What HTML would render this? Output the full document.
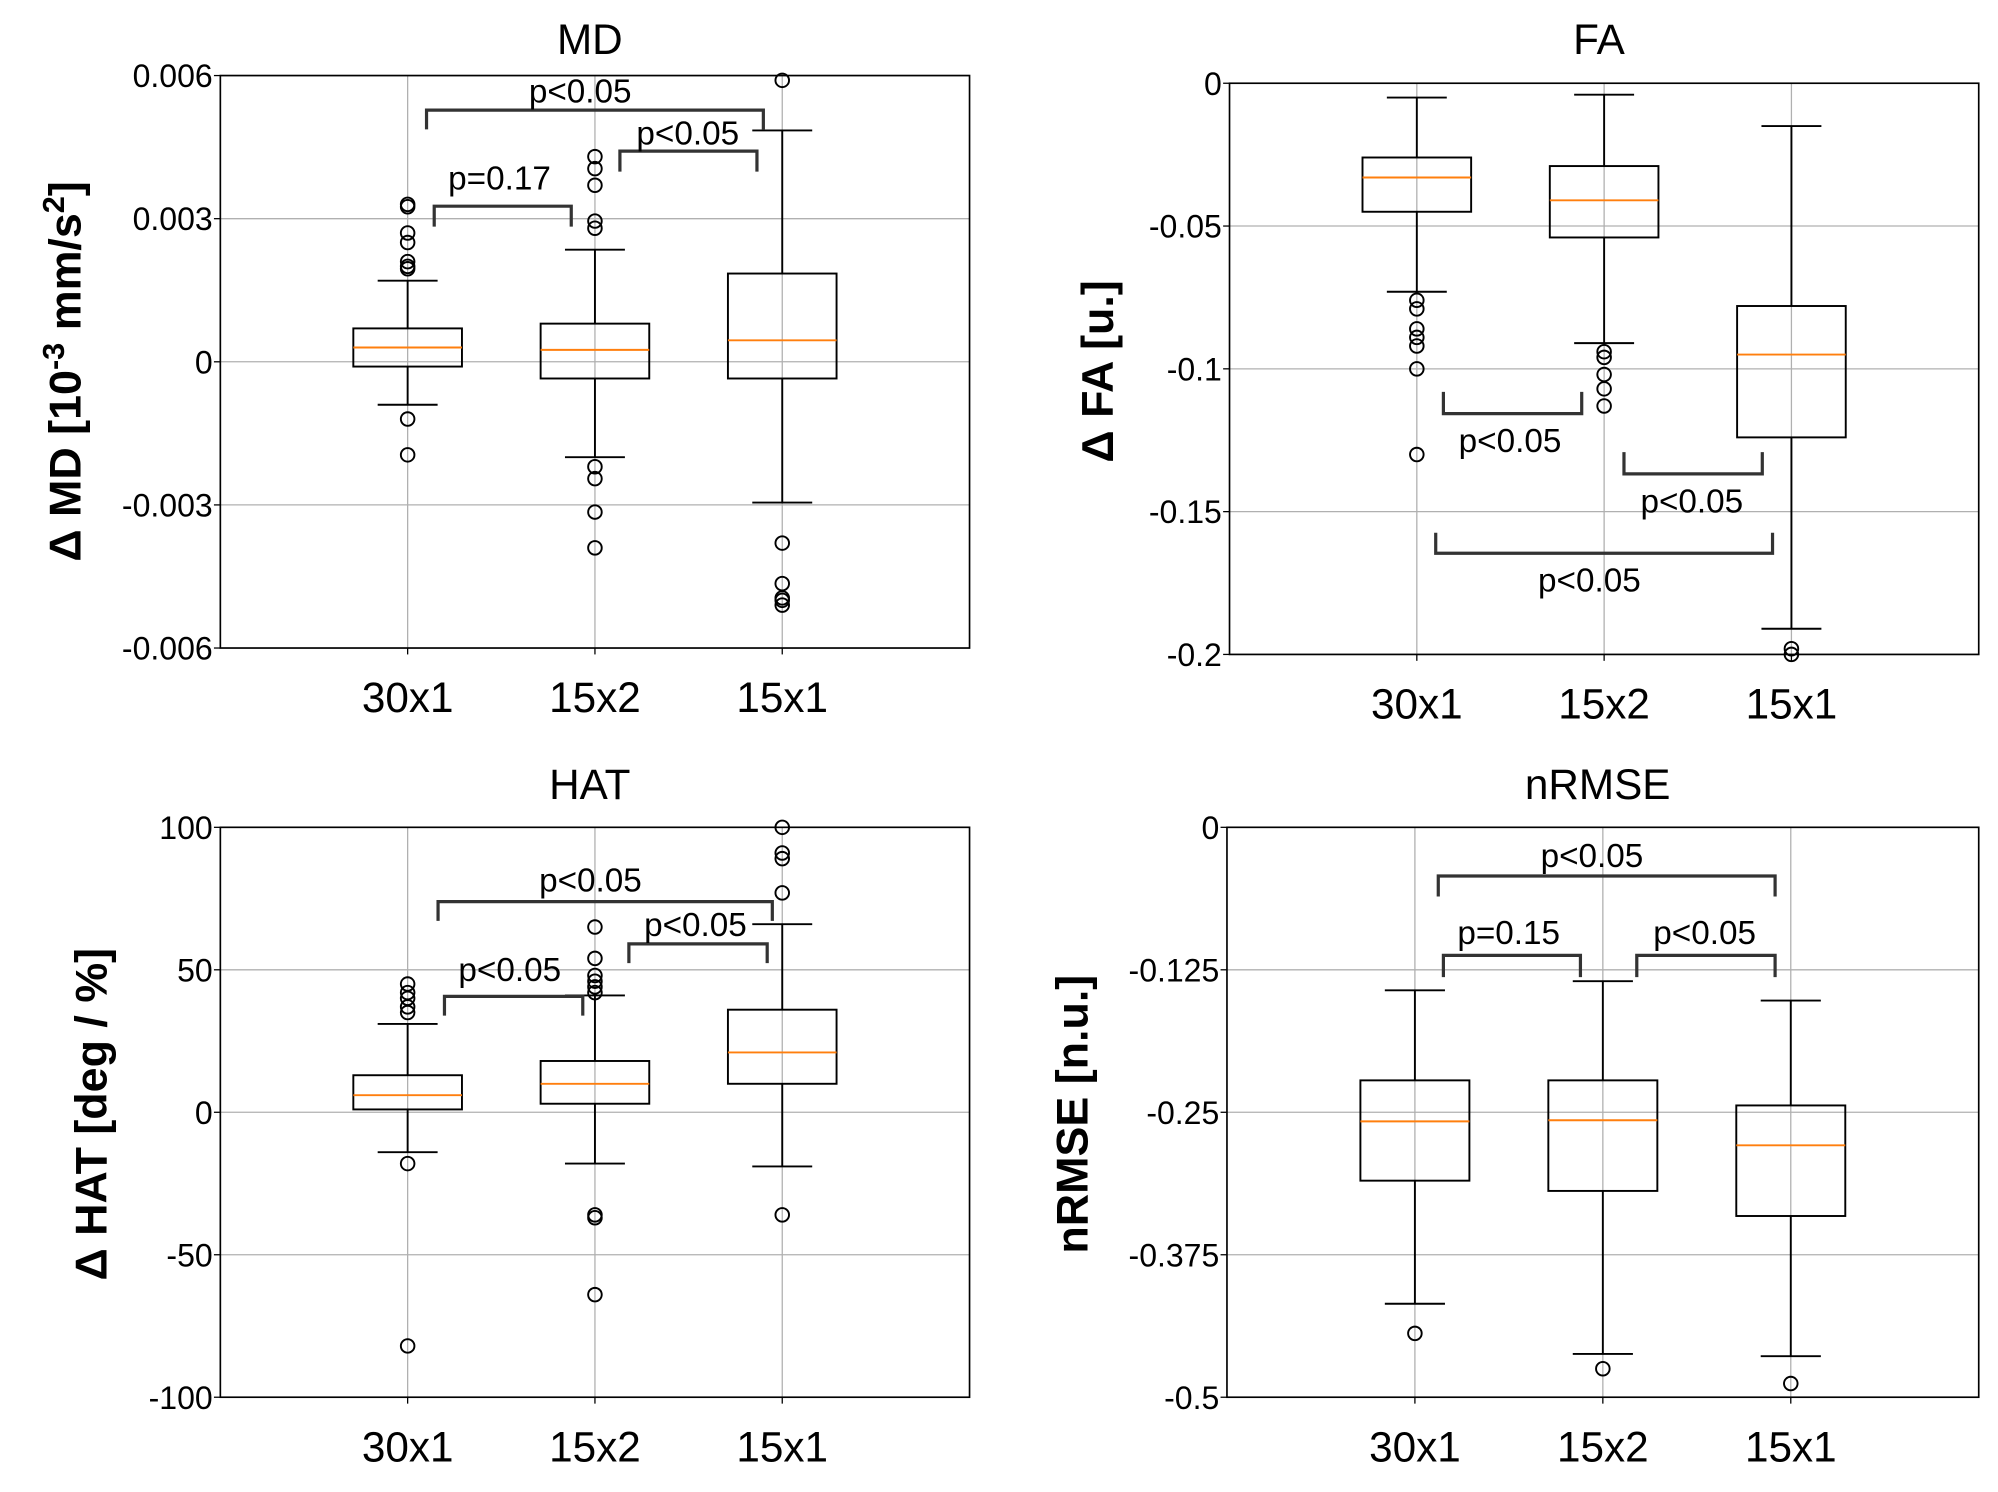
<!DOCTYPE html>
<html><head><meta charset="utf-8"><style>
html,body{margin:0;padding:0;background:#fff}
svg{display:block}
text{font-family:"Liberation Sans",sans-serif;fill:#000}
</style></head><body>
<svg id="fig" width="1998" height="1492" viewBox="0 0 1560 1165" xmlns="http://www.w3.org/2000/svg"></svg>
<script>
const categories = ["30x1","15x2","15x1"];
// [whiskerLow, Q1, median, Q3, whiskerHigh]
const mdStats = [[-0.0009,-0.0001,0.0003,0.0007,0.0017],[-0.002,-0.00035,0.00025,0.0008,0.00235],[-0.00295,-0.00035,0.00045,0.00185,0.00485]];
const mdOutliers = [[0.0033,0.00325,0.0027,0.0025,0.0021,0.002,0.00195,-0.0012,-0.00195],[0.0043,0.00405,0.0037,0.00295,0.0028,-0.0022,-0.00245,-0.00315,-0.0039],[0.0059,-0.0038,-0.00465,-0.00495,-0.005,-0.0051]];
const mdTicks = [0.006,0.003,0,-0.003,-0.006];
const mdTickLabels = ["0.006","0.003","0","-0.003","-0.006"];
const faStats = [[-0.073,-0.045,-0.033,-0.026,-0.005],[-0.091,-0.054,-0.041,-0.029,-0.004],[-0.191,-0.124,-0.095,-0.078,-0.015]];
const faOutliers = [[-0.076,-0.079,-0.086,-0.089,-0.092,-0.1,-0.13],[-0.094,-0.096,-0.102,-0.107,-0.113],[-0.198,-0.2]];
const faTicks = [0,-0.05,-0.1,-0.15,-0.2];
const faTickLabels = ["0","-0.05","-0.1","-0.15","-0.2"];
const hatStats = [[-14,1,6,13,31],[-18,3,10,18,41],[-19,10,21,36,66]];
const hatOutliers = [[45,42,40,37,35,-18,-82],[65,54,48,46,44,42,-36,-37,-64],[100,91,89,77,-36]];
const hatTicks = [100,50,0,-50,-100];
const hatTickLabels = ["100","50","0","-50","-100"];
const nrStats = [[-0.418,-0.31,-0.258,-0.222,-0.143],[-0.462,-0.319,-0.257,-0.222,-0.135],[-0.464,-0.341,-0.279,-0.244,-0.152]];
const nrOutliers = [[-0.444],[-0.475],[-0.488]];
const nrTicks = [0,-0.125,-0.25,-0.375,-0.5];
const nrTickLabels = ["0","-0.125","-0.25","-0.375","-0.5"];

const NS="http://www.w3.org/2000/svg";
const svg=document.getElementById('fig');
function mk(tag,attrs,parent){const e=document.createElementNS(NS,tag);for(const k in attrs)e.setAttribute(k,attrs[k]);(parent||svg).appendChild(e);return e;}

const panels=[
 {name:'md',title:'MD',L:172,R:757,T:59,B:506,ty:42,ymax:0.006,ymin:-0.006,stats:mdStats,out:mdOutliers,ticks:mdTicks,labels:mdTickLabels,
  ylab:'Δ MD  [10<tspan dy="-13" font-size="24">-3</tspan><tspan dy="13"> mm/s</tspan><tspan dy="-13" font-size="24">2</tspan><tspan dy="13">]</tspan>',ylx:63,yly:290,
  br:[[333,596,86,101,'p<0.05',453,80],[339,446,161,177,'p=0.17',390,148],[484,591,118,134,'p<0.05',537,113]]},
 {name:'fa',title:'FA',L:960,R:1545,T:65,B:511,ty:42,ymax:0,ymin:-0.2,stats:faStats,out:faOutliers,ticks:faTicks,labels:faTickLabels,
  ylab:'Δ FA  [u.]',ylx:869,yly:290,
  br:[[1127,1235,323,306,'p<0.05',1179,353],[1268,1376,370,353,'p<0.05',1321,400],[1121,1384,432,416,'p<0.05',1241,462]]},
 {name:'hat',title:'HAT',L:172,R:757,T:646,B:1091,ty:624,ymax:100,ymin:-100,stats:hatStats,out:hatOutliers,ticks:hatTicks,labels:hatTickLabels,
  ylab:'Δ HAT  [deg / %]',ylx:83,yly:870,
  br:[[342,603,704,719,'p<0.05',461,696],[347,455,778,793,'p<0.05',398,766],[491,599,737,752,'p<0.05',543,731]]},
 {name:'nrmse',title:'nRMSE',L:958,R:1545,T:646,B:1091,ty:624,ymax:0,ymin:-0.5,stats:nrStats,out:nrOutliers,ticks:nrTicks,labels:nrTickLabels,
  ylab:'nRMSE  [n.u.]',ylx:849,yly:870,
  br:[[1123,1386,684,700,'p<0.05',1243,677],[1127,1234,746,763,'p=0.15',1178,737],[1278,1386,746,763,'p<0.05',1331,737]]}
];

panels.forEach(p=>{
  const g=mk('g',{});
  
  
  const unit=(p.R-p.L)/4;
  const xs=i=>p.L+unit*(i+1);
  const ys=v=>p.B-(v-p.ymin)/(p.ymax-p.ymin)*(p.B-p.T);
  p.ticks.forEach((t,i)=>{
    const y=ys(t);
    const gl=mk('line',{x1:p.L,x2:p.R,y1:y,y2:y,stroke:'#b0b0b0','stroke-width':1},g);
    
    
    mk('line',{x1:p.L-5,x2:p.L,y1:y,y2:y,stroke:'#000','stroke-width':1},g);
    const tl=mk('text',{x:p.L-6,y:y+9,'text-anchor':'end','font-size':25},g);
    tl.textContent=p.labels[i];
    
    
  });
  categories.forEach((c,i)=>{
    const x=xs(i);
    const gl=mk('line',{x1:x,x2:x,y1:p.T,y2:p.B,stroke:'#b0b0b0','stroke-width':1},g);
    
    
    mk('line',{x1:x,x2:x,y1:p.B,y2:p.B+5,stroke:'#000','stroke-width':1},g);
    const tl=mk('text',{x:x,y:p.B+50,'text-anchor':'middle','font-size':33},g);
    tl.textContent=c;
    
    
  });
  p.stats.forEach((s,i)=>{
    const x=xs(i),bw=unit*0.29,cw=unit*0.16;
    const bg=mk('g',{fill:'none',stroke:'#000','stroke-width':1.5},g);
    
    
    mk('line',{x1:x,x2:x,y1:ys(s[0]),y2:ys(s[1])},bg);
    mk('line',{x1:x,x2:x,y1:ys(s[3]),y2:ys(s[4])},bg);
    mk('line',{x1:x-cw,x2:x+cw,y1:ys(s[0]),y2:ys(s[0])},bg);
    mk('line',{x1:x-cw,x2:x+cw,y1:ys(s[4]),y2:ys(s[4])},bg);
    mk('rect',{x:x-bw,y:ys(s[3]),width:2*bw,height:ys(s[1])-ys(s[3])},bg);
    const m=mk('line',{x1:x-bw,x2:x+bw,y1:ys(s[2]),y2:ys(s[2]),stroke:'#ff7f0e'},bg);
    
    
    p.out[i].forEach(v=>{
      const c=mk('circle',{cx:x,cy:ys(v),r:5.3,fill:'none',stroke:'#000','stroke-width':1.5},g);
      
      
    });
  });
  const fr=mk('rect',{x:p.L,y:p.T,width:p.R-p.L,height:p.B-p.T,fill:'none',stroke:'#000','stroke-width':1.3},g);
  
  
  p.br.forEach(b=>{
    const [x1,x2,yh,yl,txt,tx,ty]=b;
    const pa=mk('path',{d:`M${x1},${yl} L${x1},${yh} L${x2},${yh} L${x2},${yl}`,fill:'none',stroke:'#333','stroke-width':2.5},g);
    
    
    const t=mk('text',{x:tx,y:ty,'text-anchor':'middle','font-size':26},g);
    t.textContent=txt;
    
    
  });
  const ti=mk('text',{x:(p.L+p.R)/2-4,y:p.ty,'text-anchor':'middle','font-size':33},g);
  ti.textContent=p.title;
  
  
  const yl=mk('text',{x:0,y:0,'text-anchor':'middle','font-size':35,'font-weight':'bold',transform:`translate(${p.ylx},${p.yly}) rotate(-90)`},g);
  yl.innerHTML=p.ylab;
  
  
});
</script>
</body></html>
